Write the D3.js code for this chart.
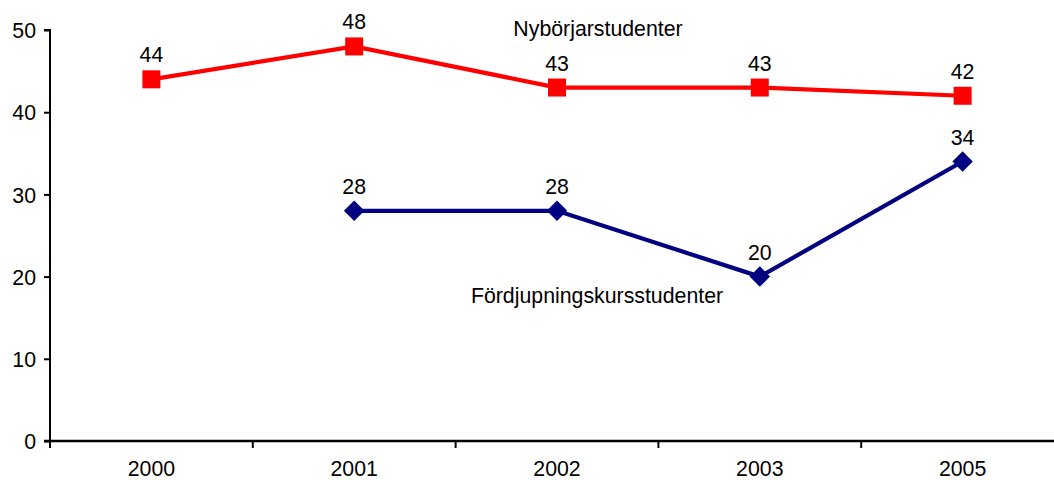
<!DOCTYPE html>
<html>
<head>
<meta charset="utf-8">
<script src="https://cdn.jsdelivr.net/npm/d3@7"></script>
<style>
  html, body { margin: 0; padding: 0; background: #fff; }
  svg text { font-family: "Liberation Sans", Arial, sans-serif; fill: #000; }
</style>
</head>
<body>
<svg id="chart" width="1054" height="480"></svg>
<script>
// Category labels along the x axis
const years = ["2000", "2001", "2002", "2003", "2005"];
// Nybörjarstudenter: one value per year
const nyborjar = [44, 48, 43, 43, 42];
// Fördjupningskursstudenter: no value for 2000
const fordjupning = [null, 28, 28, 20, 34];
// y-axis ticks
const yTicks = [0, 10, 20, 30, 40, 50];

const seriesNames = ["Nybörjarstudenter", "Fördjupningskursstudenter"];

const svg = d3.select("#chart");
const fontSize = 21.3;

const x = d3.scaleBand().domain(years).range([50, 1064]);
const y = d3.scaleLinear().domain([0, 50]).range([441, 30]);

// y axis
const yAxis = d3.axisLeft(y).tickValues(yTicks).tickSize(6).tickPadding(8);
const gy = svg.append("g").attr("transform", "translate(50,0)").call(yAxis);
gy.select(".domain").attr("stroke", "#000").attr("stroke-width", 2).attr("d", "M-6,30H0V441H-6");
gy.selectAll(".tick line").attr("stroke", "#000").attr("stroke-width", 2);
gy.selectAll(".tick text").style("font-size", fontSize + "px").attr("font-family", null).attr("dy", "0.36em");

// x axis with ticks on band boundaries
const gx = svg.append("g").attr("transform", "translate(0,441)");
gx.append("line").attr("x1", 44).attr("x2", 1064).attr("stroke", "#000").attr("stroke-width", 2.5);
const bounds = years.map(d => x(d)).concat([x.range()[1]]);
gx.selectAll("line.tk").data(bounds).join("line")
  .attr("class", "tk")
  .attr("x1", d => d).attr("x2", d => d)
  .attr("y1", 0).attr("y2", 7)
  .attr("stroke", "#000").attr("stroke-width", 2);
gx.selectAll("text").data(years).join("text")
  .attr("x", d => x(d) + x.bandwidth() / 2)
  .attr("y", 35)
  .attr("text-anchor", "middle")
  .style("font-size", fontSize + "px")
  .text(d => d);

const cx = d => x(d) + x.bandwidth() / 2;

function drawSeries(values, color, symSize, rotate) {
  const pts = years.map((yr, i) => ({ yr, v: values[i] })).filter(p => p.v != null);
  const line = d3.line().x(p => cx(p.yr)).y(p => y(p.v));
  svg.append("path").datum(pts)
    .attr("d", line)
    .attr("fill", "none")
    .attr("stroke", color)
    .attr("stroke-width", 4.2);
  svg.append("g").selectAll("path").data(pts).join("path")
    .attr("d", d3.symbol().type(d3.symbolSquare).size(symSize))
    .attr("transform", p => `translate(${cx(p.yr)},${y(p.v)}) rotate(${rotate})`)
    .attr("fill", color);
  svg.append("g").selectAll("text").data(pts).join("text")
    .attr("x", p => cx(p.yr))
    .attr("y", p => y(p.v) - 17)
    .attr("text-anchor", "middle")
    .style("font-size", fontSize + "px")
    .text(p => p.v);
}

drawSeries(nyborjar, "#ff0000", 324, 0);
drawSeries(fordjupning, "#000080", 210, 45);

// Series names placed inside the plot
svg.append("text").attr("x", 598).attr("y", 36).attr("text-anchor", "middle")
  .style("font-size", fontSize + "px").text(seriesNames[0]);
svg.append("text").attr("x", 597).attr("y", 303).attr("text-anchor", "middle")
  .style("font-size", fontSize + "px").text(seriesNames[1]);
</script>
</body>
</html>
